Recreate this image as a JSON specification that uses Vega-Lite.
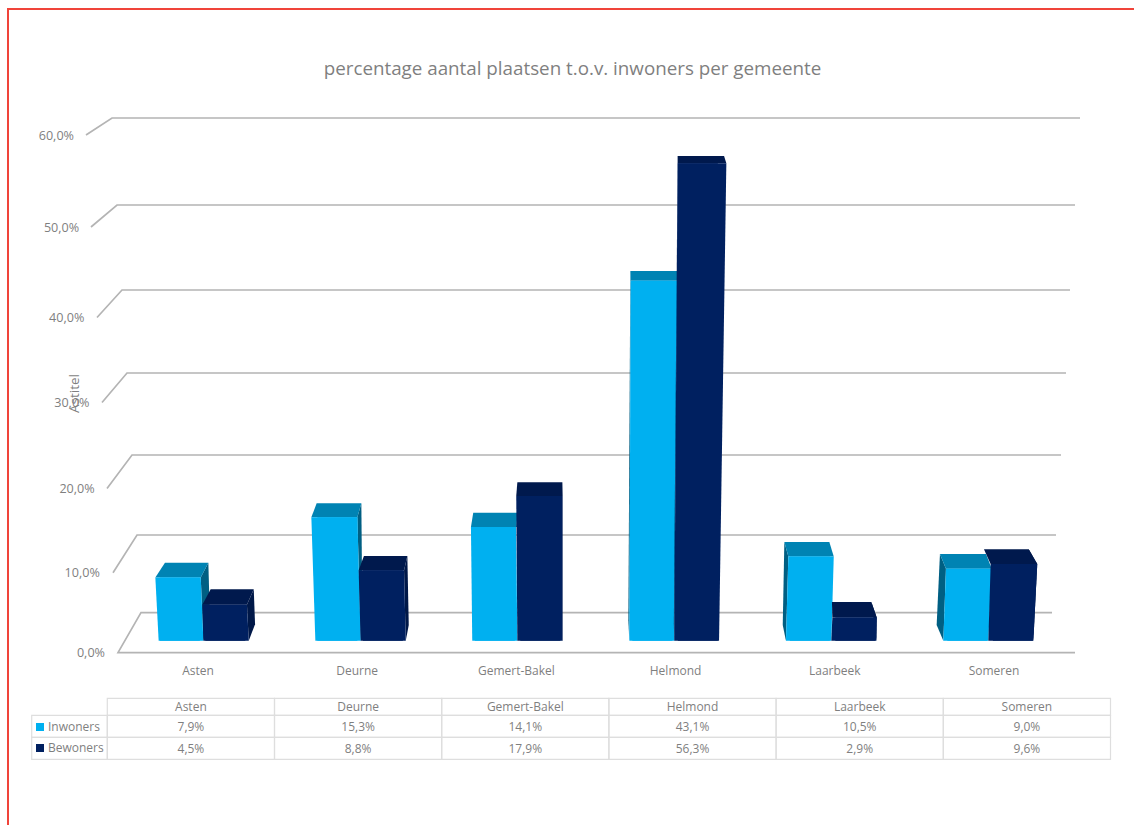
{
  "$schema": "https://vega.github.io/schema/vega-lite/v6.json",
  "width": 1134,
  "height": 825,
  "padding": 0,
  "autosize": "none",
  "background": "white",
  "config": {
    "view": {"stroke": null},
    "locale": {"number": {"decimal": ",", "thousands": ".", "grouping": [3], "currency": ["", " €"]}},
    "text": {"font": "Open Sans", "fontSize": 12, "fill": "#7f7f7f"}
  },
  "title": {
    "text": "percentage aantal plaatsen t.o.v. inwoners per gemeente",
    "anchor": "middle",
    "frame": "group",
    "offset": -79,
    "dx": 5.5,
    "font": "Open Sans",
    "fontSize": 18.8,
    "fontWeight": "normal",
    "color": "#7f7f7f"
  },
  "datasets": {
    "plaatsen": [
      {"gemeente": "Asten", "reeks": "Inwoners", "aandeel": 0.079},
      {"gemeente": "Deurne", "reeks": "Inwoners", "aandeel": 0.153},
      {"gemeente": "Gemert-Bakel", "reeks": "Inwoners", "aandeel": 0.141},
      {"gemeente": "Helmond", "reeks": "Inwoners", "aandeel": 0.431},
      {"gemeente": "Laarbeek", "reeks": "Inwoners", "aandeel": 0.105},
      {"gemeente": "Someren", "reeks": "Inwoners", "aandeel": 0.09},
      {"gemeente": "Asten", "reeks": "Bewoners", "aandeel": 0.045},
      {"gemeente": "Deurne", "reeks": "Bewoners", "aandeel": 0.088},
      {"gemeente": "Gemert-Bakel", "reeks": "Bewoners", "aandeel": 0.179},
      {"gemeente": "Helmond", "reeks": "Bewoners", "aandeel": 0.563},
      {"gemeente": "Laarbeek", "reeks": "Bewoners", "aandeel": 0.029},
      {"gemeente": "Someren", "reeks": "Bewoners", "aandeel": 0.096}
    ],
    "niveaus": [
      {"niveau": 0}, {"niveau": 0.1}, {"niveau": 0.2}, {"niveau": 0.3},
      {"niveau": 0.4}, {"niveau": 0.5}, {"niveau": 0.6}
    ]
  },
  "resolve": {"scale": {"x": "independent", "y": "independent"}, "axis": {"y": "independent"}},
  "layer": [
    {
      "description": "Red frame along the top and left edge",
      "data": {"values": [{"kader": "rand"}]},
      "mark": {
        "type": "point",
        "shape": "M-559 412.5L-559 -403.5L567 -403.5",
        "size": 4,
        "filled": false,
        "fill": null,
        "stroke": "#f0443a",
        "strokeWidth": 2,
        "opacity": 1
      },
      "encoding": {}
    },
    {
      "description": "Back wall and floor of the 3D box, with the percentage scale beside it",
      "data": {"name": "niveaus"},
      "encoding": {
        "y": {
          "field": "niveau",
          "type": "quantitative",
          "scale": {
            "domain": [0, 0.1, 0.2, 0.3, 0.4, 0.5, 0.6],
            "range": [652.7, 572.7, 488.5, 402.5, 317.5, 227, 135],
            "nice": false,
            "zero": false
          },
          "axis": {
            "title": "Astitel",
            "labels": false,
            "ticks": false,
            "domain": false,
            "grid": false,
            "titleX": 81,
            "titleY": 393,
            "titleAngle": -90,
            "titleAlign": "center",
            "titleBaseline": "bottom",
            "titleFont": "Open Sans",
            "titleFontSize": 13.5,
            "titleFontWeight": "normal",
            "titleColor": "#7f7f7f"
          }
        }
      },
      "layer": [
        {
          "mark": {"type": "point", "size": 4, "filled": false, "fill": null, "stroke": "#b4b4b4", "strokeWidth": 1.7, "opacity": 1},
          "encoding": {
            "shape": {
              "field": "niveau",
              "type": "nominal",
              "legend": null,
              "scale": {
                "domain": [0, 0.1, 0.2, 0.3, 0.4, 0.5, 0.6],
                "range": [
                  "M508 0L-449 0L-426 -40L485 -40",
                  "M-454 0L-430 -37.7L489 -37.7",
                  "M-460 0L-435 -33.5L494 -33.5",
                  "M-465 0L-440 -29.5L499 -29.5",
                  "M-470 0L-445 -27.5L503 -27.5",
                  "M-476 0L-450 -22L508 -22",
                  "M-481 0L-455 -17L513 -17"
                ]
              }
            }
          }
        },
        {
          "mark": {"type": "text", "align": "right", "baseline": "middle", "fontSize": 12.6, "dy": 0.5},
          "encoding": {
            "x": {
              "field": "niveau",
              "type": "quantitative",
              "axis": null,
              "scale": {"domain": [0, 0.6], "range": [105, 74], "nice": false, "zero": false}
            },
            "text": {"field": "niveau", "type": "quantitative", "format": ".1%"}
          }
        }
      ]
    },
    {
      "description": "Municipality names under the floor",
      "data": {"name": "plaatsen"},
      "transform": [{"filter": "datum.reeks === 'Inwoners'"}],
      "mark": {"type": "text", "dy": 258.5, "baseline": "middle", "fontSize": 12},
      "encoding": {
        "x": {
          "field": "gemeente",
          "type": "nominal",
          "sort": null,
          "axis": null,
          "scale": {"domain": ["Asten", "Deurne", "Gemert-Bakel", "Helmond", "Laarbeek", "Someren"], "range": [118.4, 1073.6], "paddingInner": 0, "paddingOuter": 0}
        },
        "text": {"field": "gemeente"}
      }
    },
    {
      "description": "3D columns: a bar per value with slanted side, top and front faces anchored on the same value",
      "data": {"name": "plaatsen"},
      "encoding": {
        "x": {
          "field": "gemeente",
          "type": "nominal",
          "axis": null,
          "scale": {
            "domain": ["Asten", "Deurne", "Gemert-Bakel", "Helmond", "Laarbeek", "Someren"],
            "range": [123.85, 1068.85],
            "paddingInner": 0.4222,
            "paddingOuter": 0.2111
          }
        },
        "xOffset": {
          "field": "reeks",
          "type": "nominal",
          "scale": {"domain": ["Inwoners", "Bewoners"], "paddingInner": 0, "paddingOuter": 0}
        },
        "y": {
          "field": "aandeel",
          "type": "quantitative",
          "stack": null,
          "axis": null,
          "scale": {
            "domain": [0, 0.1, 0.2, 0.431, 0.563, 0.6],
            "range": [640.7, 560.7, 478.7, 280.7, 163.3, 130.4],
            "nice": false,
            "zero": false
          }
        }
      },
      "resolve": {"scale": {"shape": "independent"}},
      "layer": [
        {
          "transform": [{"filter": "datum.reeks === 'Inwoners'"}],
          "mark": {"type": "point", "size": 4, "filled": true, "fill": "#005f83", "stroke": null, "opacity": 1},
          "encoding": {
            "shape": {
              "field": "gemeente",
              "type": "nominal",
              "legend": null,
              "scale": {
                "domain": ["Asten", "Deurne", "Gemert-Bakel", "Helmond", "Laarbeek", "Someren"],
                "range": [
                  "M20.9 0L28.5 -14.8L30 40L23.5 63Z",
                  "M20 0L24 -13.9L25 100L23.4 123.5Z",
                  "M21.2 0L23.2 -14.4L23.2 0Z",
                  "M-21.7 0L-22 -9.7L-24 340L-23 360Z",
                  "M-21.5 0L-25.5 -14.6L-27.1 68.4L-23.9 84.1Z",
                  "M-21.4 0L-27.4 -14.7L-30.7 56.3L-24 72Z"
                ]
              }
            }
          }
        },
        {
          "transform": [{"filter": "datum.reeks === 'Inwoners'"}],
          "mark": {"type": "point", "size": 4, "filled": true, "fill": "#0083b3", "stroke": null, "opacity": 1},
          "encoding": {
            "shape": {
              "field": "gemeente",
              "type": "nominal",
              "legend": null,
              "scale": {
                "domain": ["Asten", "Deurne", "Gemert-Bakel", "Helmond", "Laarbeek", "Someren"],
                "range": [
                  "M-24.5 0L20.9 0L28.5 -14.8L-14.9 -14.8Z",
                  "M-26 0L20 0L24 -13.9L-20.7 -13.9Z",
                  "M-23.9 0L21.2 0L23.2 -14.4L-21.6 -14.4Z",
                  "M-21.7 0L25 0L25 -9.7L-22 -9.7Z",
                  "M-21.5 0L23.9 0L19.5 -14.6L-25.5 -14.6Z",
                  "M-21.4 0L24.4 0L18.7 -14.7L-27.4 -14.7Z"
                ]
              }
            }
          }
        },
        {
          "transform": [{"filter": "datum.reeks === 'Inwoners'"}],
          "mark": {"type": "bar", "width": 40},
          "encoding": {
            "color": {
              "field": "reeks",
              "type": "nominal",
              "scale": {"domain": ["Inwoners", "Bewoners"], "range": ["#00b0f0", "#002060"]},
              "legend": {
                "orient": "none",
                "legendX": 34,
                "legendY": 721,
                "title": null,
                "symbolType": "square",
                "symbolSize": 64,
                "symbolStrokeWidth": 0,
                "labelFont": "Open Sans",
                "labelFontSize": 12,
                "labelColor": "#7f7f7f",
                "labelOffset": 2,
                "rowPadding": 9
              }
            }
          }
        },
        {
          "transform": [{"filter": "datum.reeks === 'Inwoners'"}],
          "mark": {"type": "point", "size": 4, "filled": true, "fill": "#00b0f0", "stroke": null, "opacity": 1},
          "encoding": {
            "shape": {
              "field": "gemeente",
              "type": "nominal",
              "legend": null,
              "scale": {
                "domain": ["Asten", "Deurne", "Gemert-Bakel", "Helmond", "Laarbeek", "Someren"],
                "range": [
                  "M-24.5 0L20.9 0L23.5 63.2L-21.2 63.2Z",
                  "M-26 0L20 0L23.4 123.5L-22 123.5Z",
                  "M-23.9 0L21.2 0L22.5 113.6L-22.6 113.6Z",
                  "M-21.7 0L25 0L22 360L-23 360Z",
                  "M-21.5 0L23.9 0L21.5 84.1L-23.9 84.1Z",
                  "M-21.4 0L24.4 0L21 72L-24 72Z"
                ]
              }
            }
          }
        },
        {
          "transform": [{"filter": "datum.reeks === 'Bewoners'"}],
          "mark": {"type": "point", "size": 4, "filled": true, "fill": "#001848", "stroke": null, "opacity": 1},
          "encoding": {
            "shape": {
              "field": "gemeente",
              "type": "nominal",
              "legend": null,
              "scale": {
                "domain": ["Asten", "Deurne", "Gemert-Bakel", "Helmond", "Laarbeek", "Someren"],
                "range": [
                  "M21.6 0L28.4 -15.4L29.7 19.6L23.4 36Z",
                  "M21.2 0L24.5 -14.3L25.9 54.7L22.9 70.4Z",
                  "M22 0L22.4 -13.6L22.4 144.8L22 144.8Z",
                  "M-20.2 0L-20.2 -7.3L-24 460L-23.6 477.4Z",
                  "M21.4 0L16 -15.5L21 23.2Z",
                  "M24.4 0L15.9 -14.6L20.5 76.8Z"
                ]
              }
            }
          }
        },
        {
          "transform": [{"filter": "datum.reeks === 'Bewoners'"}],
          "mark": {"type": "point", "size": 4, "filled": true, "fill": "#00194d", "stroke": null, "opacity": 1},
          "encoding": {
            "shape": {
              "field": "gemeente",
              "type": "nominal",
              "legend": null,
              "scale": {
                "domain": ["Asten", "Deurne", "Gemert-Bakel", "Helmond", "Laarbeek", "Someren"],
                "range": [
                  "M-23 0L21.6 0L28.4 -15.4L-14.7 -15.4Z",
                  "M-24.2 0L21.2 0L24.5 -14.3L-18.9 -14.3Z",
                  "M-24.1 0L22 0L22 -13.6L-23 -13.6Z",
                  "M-20.2 0L28.5 0L26.2 -7.3L-20.2 -7.3Z",
                  "M-23 0L21.4 0L16 -15.5L-23.4 -15.5Z",
                  "M-22.2 0L24.4 0L15.9 -14.6L-28.9 -14.6Z"
                ]
              }
            }
          }
        },
        {
          "transform": [{"filter": "datum.reeks === 'Bewoners'"}],
          "mark": {"type": "bar", "width": 40},
          "encoding": {
            "color": {
              "field": "reeks",
              "type": "nominal",
              "scale": {"domain": ["Inwoners", "Bewoners"], "range": ["#00b0f0", "#002060"]}
            }
          }
        },
        {
          "transform": [{"filter": "datum.reeks === 'Bewoners'"}],
          "mark": {"type": "point", "size": 4, "filled": true, "fill": "#002060", "stroke": null, "opacity": 1},
          "encoding": {
            "shape": {
              "field": "gemeente",
              "type": "nominal",
              "legend": null,
              "scale": {
                "domain": ["Asten", "Deurne", "Gemert-Bakel", "Helmond", "Laarbeek", "Someren"],
                "range": [
                  "M-23 0L21.6 0L23.4 36L-22 36Z",
                  "M-24.2 0L21.2 0L22.9 70.4L-22.2 70.4Z",
                  "M-24.1 0L22 0L22 144.8L-23 144.8Z",
                  "M-20.2 0L28.5 0L21.2 477.4L-23.6 477.4Z",
                  "M-23 0L21.4 0L21 23.2L-24 23.2Z",
                  "M-22.2 0L24.4 0L20.5 76.8L-24.5 76.8Z"
                ]
              }
            }
          }
        }
      ]
    },
    {
      "description": "Data table: one cell per value",
      "data": {"name": "plaatsen"},
      "encoding": {
        "x": {
          "field": "gemeente",
          "type": "nominal",
          "axis": null,
          "scale": {
            "domain": ["Asten", "Deurne", "Gemert-Bakel", "Helmond", "Laarbeek", "Someren"],
            "range": [107.3, 1110.5],
            "paddingInner": 0,
            "paddingOuter": 0
          }
        },
        "y": {
          "field": "reeks",
          "type": "nominal",
          "axis": null,
          "scale": {"domain": ["Inwoners", "Bewoners"], "range": [715.3, 759.3], "paddingInner": 0, "paddingOuter": 0}
        }
      },
      "layer": [
        {"mark": {"type": "rect", "fill": null, "stroke": "#dedede", "strokeWidth": 1.2}},
        {
          "mark": {"type": "text", "baseline": "middle", "fontSize": 12, "dy": 1},
          "encoding": {"text": {"field": "aandeel", "type": "quantitative", "format": ".1%"}}
        },
        {
          "transform": [{"filter": "datum.gemeente === 'Asten'"}],
          "mark": {
            "type": "point",
            "size": 4,
            "shape": "M-159.2 -11L-83.6 -11L-83.6 11L-159.2 11Z",
            "filled": false,
            "fill": null,
            "stroke": "#dedede",
            "strokeWidth": 1.2,
            "opacity": 1
          }
        }
      ]
    },
    {
      "description": "Data table: header row with the municipality names",
      "data": {"name": "plaatsen"},
      "transform": [{"filter": "datum.reeks === 'Inwoners'"}],
      "encoding": {
        "x": {
          "field": "gemeente",
          "type": "nominal",
          "axis": null,
          "scale": {
            "domain": ["Asten", "Deurne", "Gemert-Bakel", "Helmond", "Laarbeek", "Someren"],
            "range": [107.3, 1110.5],
            "paddingInner": 0,
            "paddingOuter": 0
          }
        },
        "y": {
          "datum": "kop",
          "type": "nominal",
          "axis": null,
          "scale": {"domain": ["kop"], "range": [698.3, 715.3], "paddingInner": 0, "paddingOuter": 0}
        }
      },
      "layer": [
        {"mark": {"type": "rect", "fill": null, "stroke": "#dedede", "strokeWidth": 1.2}},
        {
          "mark": {"type": "text", "baseline": "middle", "fontSize": 12},
          "encoding": {"text": {"field": "gemeente"}}
        }
      ]
    }
  ]
}
